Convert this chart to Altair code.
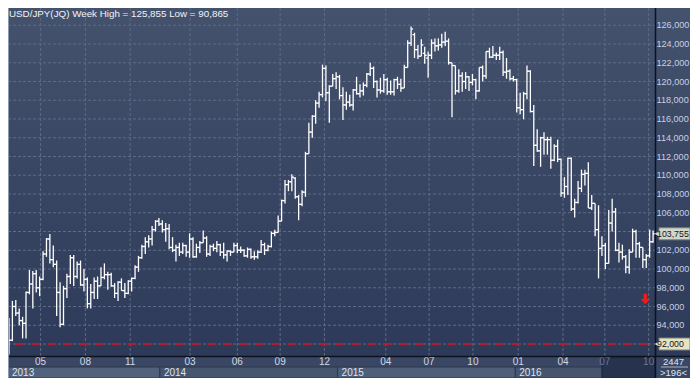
import altair as alt
import pandas as pd

# ---------------- data ----------------
TITLE = "USD/JPY(JQ) Week High = 125,855 Low = 90,865"
first_week = "2013-02-25"

opens = [
    # 2013
    93.4, 92.4, 96.0, 95.3, 94.5, 94.2, 97.5, 98.4, 99.5, 98.0,
    98.9, 101.6, 103.2, 101.0, 100.5, 97.5, 94.1, 97.9, 99.2, 101.2,
    99.2, 100.5, 98.3, 98.9, 96.3, 97.5, 98.7, 98.2, 99.1, 99.4,
    99.4, 98.2, 97.4, 98.6, 97.7, 97.4, 98.7, 99.0, 100.2, 101.2,
    102.4, 102.9, 103.2, 104.2, 105.1,
    # 2014
    104.8, 104.2, 104.3, 102.3, 102.0, 102.3, 101.8, 102.5, 101.8, 103.2,
    101.3, 102.3, 102.8, 103.3, 101.6, 102.4, 102.2, 102.6, 101.8, 101.5,
    101.9, 101.8, 102.5, 102.0, 102.0, 101.4, 102.1, 101.3, 101.3, 101.8,
    102.6, 102.0, 102.4, 103.8, 103.9, 105.1, 107.3, 109.0, 109.3, 109.7,
    107.7, 106.9, 108.2, 112.3, 114.6, 116.3, 117.7, 118.6, 121.4, 118.8,
    119.5, 120.3,
    # 2015
    120.5, 118.5, 117.5, 117.8, 117.5, 119.1, 118.7, 119.0, 119.6, 120.8,
    121.4, 120.0, 119.1, 119.0, 120.2, 118.9, 118.9, 120.2, 119.7, 119.3,
    121.5, 124.1, 125.0, 123.4, 122.7, 123.0, 122.5, 122.8, 124.1, 123.8,
    123.9, 124.2, 124.3, 122.0, 121.7, 119.0, 120.6, 120.0, 120.5, 119.9,
    120.2, 119.0, 121.5, 120.6, 123.2, 122.6, 122.8, 122.8, 123.1, 121.0,
    121.1, 120.3,
    # 2016
    120.2, 117.2, 117.0, 118.7, 121.1, 116.8, 113.2, 112.6, 114.0, 113.8,
    113.8, 111.6, 113.1, 111.7, 108.1, 108.8, 111.8, 106.4, 107.1, 108.6,
    110.1, 110.2, 106.5, 107.0, 104.2, 102.2, 102.5, 100.6, 104.9, 106.1,
    102.0, 101.8, 101.3, 100.2, 101.8, 104.0, 102.7, 102.3, 101.0, 101.4,
    102.9,
]
highs = [
    94.77, 96.6, 96.7, 95.8, 94.9, 97.6, 99.9, 99.8, 99.9, 99.2,
    101.9, 103.3, 103.74, 102.5, 100.9, 98.6, 98.2, 99.5, 101.5, 101.5,
    100.8, 100.9, 100.0, 99.1, 98.4, 99.1, 99.2, 100.2, 100.6, 99.7,
    99.6, 98.5, 98.7, 99.0, 98.5, 98.8, 99.1, 100.4, 101.4, 102.6,
    103.4, 103.6, 104.6, 105.2, 105.44,
    105.2, 104.9, 104.8, 103.4, 102.6, 102.8, 102.8, 102.6, 103.8, 103.4,
    102.7, 103.0, 104.1, 103.5, 102.6, 102.7, 103.0, 102.7, 102.8, 102.0,
    102.0, 102.8, 102.8, 102.4, 102.1, 102.3, 102.2, 101.9, 102.0, 103.1,
    102.8, 102.6, 104.0, 104.2, 105.7, 107.4, 109.5, 109.5, 110.1, 109.8,
    107.9, 108.4, 112.5, 115.6, 116.4, 118.0, 118.9, 121.8, 121.7, 119.6,
    120.8, 121.0,
    120.7, 119.4, 118.9, 118.6, 119.2, 120.5, 119.7, 119.9, 120.9, 122.0,
    121.6, 120.1, 120.4, 120.8, 120.4, 120.1, 120.3, 120.5, 120.3, 121.8,
    124.4, 125.855, 125.2, 123.9, 124.5, 123.7, 123.2, 124.5, 124.6, 124.6,
    125.1, 125.3, 124.6, 122.0, 121.7, 121.3, 121.0, 121.0, 120.6, 120.8,
    120.3, 121.5, 121.7, 123.2, 123.6, 123.8, 123.1, 123.7, 123.3, 122.5,
    121.3, 120.6,
    120.3, 118.8, 118.9, 121.7, 121.2, 117.5, 114.9, 114.1, 114.6, 114.1,
    114.1, 113.3, 113.8, 111.8, 109.8, 111.9, 111.9, 107.5, 109.4, 110.6,
    110.6, 111.4, 107.9, 107.0, 106.8, 103.5, 102.8, 106.3, 107.5, 106.5,
    102.8, 102.6, 101.5, 102.1, 104.3, 104.2, 102.9, 102.3, 101.6, 104.2,
    104.1,
]
lows = [
    90.87, 92.3, 95.0, 94.0, 92.6, 92.6, 97.3, 95.8, 97.5, 97.1,
    98.8, 101.3, 100.6, 100.2, 94.98, 93.8, 94.0, 96.9, 98.4, 98.2,
    99.0, 98.2, 97.6, 95.8, 95.8, 96.8, 96.8, 98.2, 98.9, 97.8,
    98.1, 96.9, 96.6, 97.7, 96.9, 97.3, 97.6, 98.9, 99.7, 101.1,
    101.6, 102.3, 102.5, 104.0, 104.6,
    103.9, 102.9, 102.1, 101.8, 100.8, 101.4, 101.6, 101.3, 101.2, 101.2,
    101.2, 101.7, 102.8, 101.3, 101.4, 101.9, 101.8, 101.4, 101.1, 100.8,
    101.4, 101.8, 101.7, 101.7, 101.3, 101.2, 101.1, 101.0, 101.1, 101.7,
    101.5, 101.9, 102.3, 103.5, 103.9, 105.1, 107.0, 108.3, 108.3, 107.5,
    105.2, 106.7, 107.7, 112.3, 114.0, 115.5, 117.2, 118.3, 117.9, 115.6,
    119.5, 119.2,
    118.1, 115.9, 117.0, 117.3, 116.9, 118.6, 118.3, 118.5, 119.4, 120.6,
    119.3, 118.3, 118.7, 118.8, 118.6, 118.6, 118.5, 119.2, 118.9, 119.3,
    121.5, 123.8, 122.5, 122.4, 122.7, 121.9, 120.4, 122.4, 123.2, 123.3,
    123.6, 123.8, 121.8, 116.2, 118.6, 118.8, 118.9, 119.2, 119.0, 119.6,
    118.1, 118.9, 120.0, 120.3, 122.5, 122.5, 122.3, 122.3, 120.6, 120.3,
    120.1, 120.0,
    116.7, 116.5, 115.97, 118.1, 116.7, 110.99, 112.5, 110.9, 112.2, 112.2,
    110.7, 111.5, 111.4, 107.7, 107.6, 107.9, 106.2, 105.5, 107.0, 108.2,
    108.9, 106.5, 106.3, 103.5, 99.0, 101.4, 99.99, 100.6, 104.0, 101.9,
    100.7, 101.0, 99.55, 99.5, 101.8, 101.2, 101.2, 100.1, 100.1, 101.2,
    102.8,
]
closes = [
    92.4, 96.0, 95.3, 94.5, 94.2, 97.5, 98.4, 99.5, 98.0, 98.9,
    101.6, 103.2, 101.0, 100.5, 97.5, 94.1, 97.9, 99.2, 101.2, 99.2,
    100.5, 98.3, 98.9, 96.3, 97.5, 98.7, 98.2, 99.1, 99.4, 99.4,
    98.2, 97.4, 98.6, 97.7, 97.4, 98.7, 99.0, 100.2, 101.2, 102.4,
    102.9, 103.2, 104.2, 105.1, 104.8,
    104.2, 104.3, 102.3, 102.0, 102.3, 101.8, 102.5, 101.8, 103.2, 101.3,
    102.3, 102.8, 103.3, 101.6, 102.4, 102.2, 102.6, 101.8, 101.5, 101.9,
    101.8, 102.5, 102.0, 102.0, 101.4, 102.1, 101.3, 101.3, 101.8, 102.6,
    102.0, 102.4, 103.8, 103.9, 105.1, 107.3, 109.0, 109.3, 109.8, 107.7,
    106.9, 108.2, 112.3, 114.6, 116.3, 117.7, 118.6, 121.4, 118.8, 119.5,
    120.3, 120.5,
    118.5, 117.5, 117.8, 117.5, 119.1, 118.7, 119.0, 119.6, 120.8, 121.4,
    120.0, 119.1, 119.0, 120.2, 118.9, 118.9, 120.2, 119.7, 119.3, 121.5,
    124.1, 125.6, 123.4, 122.7, 123.9, 122.8, 122.8, 124.1, 123.8, 123.9,
    124.2, 124.3, 122.0, 121.7, 119.0, 120.6, 120.0, 120.5, 119.9, 120.2,
    119.0, 121.5, 120.6, 123.2, 122.6, 122.8, 122.8, 123.1, 121.0, 121.1,
    120.3, 120.2,
    117.2, 117.0, 118.7, 121.1, 116.8, 113.2, 112.6, 114.0, 113.8, 113.8,
    111.6, 113.1, 111.7, 108.1, 108.8, 111.8, 106.4, 107.1, 108.6, 110.1,
    110.2, 106.5, 107.0, 104.2, 102.2, 102.5, 100.6, 104.9, 106.1, 102.0,
    101.8, 101.3, 100.2, 101.8, 104.0, 102.7, 102.3, 101.0, 101.4, 102.9,
    103.755,
]

y_ticks = [92, 94, 96, 98, 100, 102, 104, 106, 108, 110, 112, 114, 116,
           118, 120, 122, 124, 126]
y_domain = [90.72, 127.84]
x_domain = ["2013-02-23", "2016-10-14"]
month_tick_dates = ["2013-05-01", "2013-08-01", "2013-11-01", "2014-03-04",
                    "2014-06-09", "2014-09-05", "2014-12-05", "2015-04-10",
                    "2015-07-08", "2015-10-06", "2016-01-07", "2016-04-08",
                    "2016-07-03", "2016-10-01"]
year_labels = ["2013", "2014", "2015", "2016"]
year_starts = ["2013-02-23", "2014-01-01", "2015-01-01", "2016-01-01"]
year_ends = ["2014-01-01", "2015-01-01", "2016-01-01", "2016-10-14"]
highlight_start = "2016-06-27"
last_price = closes[-1]
marker_level = 92.0
arrow_date = ["2016-09-24"]
arrow_value = [96.8]
counter_top = "2447"
counter_bottom = ">196<"

# ---------------- styles ----------------
FONT = "Liberation Sans, Arial, sans-serif"
W, H = 647, 348
RIGHT, BOTTOM = 35, 22
BAR = "#ffffff"
GRID = "#5d6b87"
GRAD = {"gradient": "linear", "x1": 0, "x2": 0, "y1": 0, "y2": 1,
        "stops": [{"offset": 0, "color": "#45526d"},
                  {"offset": 1, "color": "#2b3857"}]}


def dt(s):
    y, m, d = (int(p) for p in s.split("-"))
    return alt.DateTime(year=y, month=m, date=d, utc=True)


def price_label(v):
    return f"{v:.3f}".replace(".", ",")


xscale = alt.Scale(type="utc", domain=[dt(x_domain[0]), dt(x_domain[1])], nice=False)
yscale = alt.Scale(domain=y_domain, zero=False, nice=False)

weeks = pd.date_range(first_week, periods=len(closes), freq="7D").strftime("%Y-%m-%d")
df = pd.DataFrame({"date": weeks, "open": opens, "high": highs, "low": lows,
                   "close": closes})
one = pd.DataFrame({"k": [0]})

bg = alt.Chart(one).mark_rect(fill=GRAD, clip=False).encode(
    x=alt.value(0), x2=alt.value(W + RIGHT), y=alt.value(0), y2=alt.value(H + BOTTOM))

band = alt.Chart(one).mark_rect(fill="#3a4764").encode(
    x=alt.value(0), x2=alt.value(W + RIGHT), y=alt.value(H), y2=alt.value(H + BOTTOM))

years_df = pd.DataFrame({"label": year_labels, "start": year_starts, "end": year_ends})
year_boxes = alt.Chart(years_df).mark_rect(stroke="#2d384f", strokeWidth=1).encode(
    x=alt.X("start:T", scale=xscale, axis=None), x2="end:T",
    y=alt.value(H + 11), y2=alt.value(H + BOTTOM),
    color=alt.Color("label:N", legend=None,
                    scale=alt.Scale(domain=year_labels,
                                    range=["#52617c", "#47566f", "#4f5e79", "#46546e"])))

hl_df = pd.DataFrame({"s": [highlight_start], "e": [x_domain[1]]})
highlight = alt.Chart(hl_df).mark_rect(fill="#27324e", stroke="#1c253b").encode(
    x=alt.X("s:T", scale=xscale, axis=None), x2="e:T",
    y=alt.value(H + 1), y2=alt.value(H + BOTTOM))

year_text = alt.Chart(years_df).mark_text(
    align="left", baseline="middle", dx=4, font=FONT, fontSize=10, color="#dde3ec"
).encode(x=alt.X("start:T", scale=xscale, axis=None), y=alt.value(H + 16.5), text="label:N")

month_df = pd.DataFrame({
    "d": month_tick_dates,
    "m": [s[5:7] for s in month_tick_dates],
    "dim": [s > highlight_start for s in month_tick_dates],
})
month_text = alt.Chart(month_df).mark_text(
    align="center", baseline="middle", font=FONT, fontSize=10).encode(
    x=alt.X("d:T", scale=xscale, axis=None), y=alt.value(H + 6), text="m:N",
    color=alt.condition("datum.dim", alt.value("#6c7a96"), alt.value("#d2d9e6")))

ylab_df = pd.DataFrame({"v": [v for v in y_ticks if v not in (92, 104)]})
ylab_df["label"] = [price_label(v) for v in ylab_df["v"]]
y_text = alt.Chart(ylab_df).mark_text(
    align="left", baseline="middle", font=FONT, fontSize=9.1, color="#c6d0e2").encode(
    x=alt.value(W + 1.5), y=alt.Y("v:Q", scale=yscale, axis=None), text="label:N")

hgrid = alt.Chart(pd.DataFrame({"v": y_ticks})).mark_rule(
    color=GRID, strokeDash=[3, 2], strokeWidth=1).encode(
    y=alt.Y("v:Q", scale=yscale, axis=None), x=alt.value(0), x2=alt.value(W))

vgrid = alt.Chart(month_df).mark_rule(
    color=GRID, strokeDash=[3, 2], strokeWidth=1).encode(
    x=alt.X("d:T", scale=xscale, axis=None), y=alt.value(0), y2=alt.value(H))

red_line = alt.Chart(pd.DataFrame({"v": [marker_level]})).mark_rule(
    color="#b21c30", strokeWidth=2, strokeDash=[8, 8]).encode(
    y=alt.Y("v:Q", scale=yscale, axis=None), x=alt.value(8), x2=alt.value(644))

hl_bars = alt.Chart(df).mark_rule(color=BAR, strokeWidth=1.3).encode(
    x=alt.X("date:T", scale=xscale, axis=None),
    y=alt.Y("low:Q", scale=yscale, axis=None), y2="high:Q")
open_ticks = alt.Chart(df).mark_rule(color=BAR, strokeWidth=1.3, xOffset=-2, x2Offset=0).encode(
    x=alt.X("date:T", scale=xscale, axis=None), x2="date:T",
    y=alt.Y("open:Q", scale=yscale, axis=None))
close_ticks = alt.Chart(df).mark_rule(color=BAR, strokeWidth=1.3, xOffset=0, x2Offset=2).encode(
    x=alt.X("date:T", scale=xscale, axis=None), x2="date:T",
    y=alt.Y("close:Q", scale=yscale, axis=None))

arrow = alt.Chart(pd.DataFrame({"d": arrow_date, "v": arrow_value})).mark_point(
    shape="M-0.35,-1L0.35,-1L0.35,0L0.9,0L0,1L-0.9,0L-0.35,0Z",
    filled=True, color="#ee1b1b", opacity=1, size=110).encode(
    x=alt.X("d:T", scale=xscale, axis=None), y=alt.Y("v:Q", scale=yscale, axis=None))

vline = alt.Chart(one).mark_rule(color="#0d121c", strokeWidth=1.5).encode(
    x=alt.value(W + 0.5), y=alt.value(0), y2=alt.value(H + BOTTOM))
hline = alt.Chart(one).mark_rule(color="#0d121c", strokeWidth=1.5).encode(
    y=alt.value(H + 0.5), x=alt.value(0), x2=alt.value(W + RIGHT))
left_border = alt.Chart(one).mark_rule(color="#8d99ad", strokeWidth=1).encode(
    x=alt.value(0.5), y=alt.value(0), y2=alt.value(H + BOTTOM))

tags_df = pd.DataFrame({
    "v": [last_price, marker_level],
    "label": [price_label(last_price), price_label(marker_level)],
    "kind": ["last", "marker"],
})
tag_color = alt.Color("kind:N", legend=None,
                      scale=alt.Scale(domain=["last", "marker"], range=["#d3d7cb", "#e5e3c4"]))
tag_box = alt.Chart(tags_df).mark_rect(yOffset=-6, y2Offset=6, stroke="#7d8176",
                                       strokeWidth=1).encode(
    x=alt.value(W + 4), x2=alt.value(W + RIGHT), y=alt.Y("v:Q", scale=yscale, axis=None),
    y2="v:Q", color=tag_color)
tag_ptr = alt.Chart(tags_df).mark_point(shape="triangle-left", filled=True, size=45,
                                        opacity=1).encode(
    x=alt.value(W + 2.5), y=alt.Y("v:Q", scale=yscale, axis=None), color=tag_color)
tag_text = alt.Chart(tags_df).mark_text(align="left", baseline="middle", font=FONT,
                                        fontSize=8.8, color="#151515").encode(
    x=alt.value(W + 2), y=alt.Y("v:Q", scale=yscale, axis=None), text="label:N")

counter_a = alt.Chart(pd.DataFrame({"t": [counter_top]})).mark_text(
    align="center", baseline="middle", font=FONT, fontSize=9.5, color="#dfe4ec").encode(
    x=alt.value(W + RIGHT / 2 + 1), y=alt.value(H + 5.5), text="t:N")
counter_b = alt.Chart(pd.DataFrame({"t": [counter_bottom]})).mark_text(
    align="center", baseline="middle", font=FONT, fontSize=9.5, color="#dfe4ec").encode(
    x=alt.value(W + RIGHT / 2 + 1), y=alt.value(H + 16.5), text="t:N")
counter_sep = alt.Chart(one).mark_rule(color="#a9b2c0", strokeWidth=1).encode(
    y=alt.value(H + 11), x=alt.value(W + 6), x2=alt.value(W + RIGHT - 2))

title = alt.Chart(pd.DataFrame({"t": [TITLE]})).mark_text(
    align="left", baseline="top", font=FONT, fontSize=9.8, color="#f0f2f6").encode(
    x=alt.value(1), y=alt.value(1), text="t:N")

chart = alt.layer(
    bg, band, year_boxes, highlight, year_text, month_text, hgrid, vgrid, red_line,
    hl_bars, open_ticks, close_ticks, arrow, vline, hline, left_border, y_text,
    tag_box, tag_ptr, tag_text, counter_a, counter_b, counter_sep, title,
).resolve_scale(color="independent").properties(
    width=W, height=H,
    padding={"left": 0, "top": 0, "right": RIGHT, "bottom": BOTTOM},
    autosize=alt.AutoSizeParams(type="none"),
).configure_view(stroke=None).configure(background="#2b3857")

chart.save("out.html", embed_options={"renderer": "svg", "actions": False})
